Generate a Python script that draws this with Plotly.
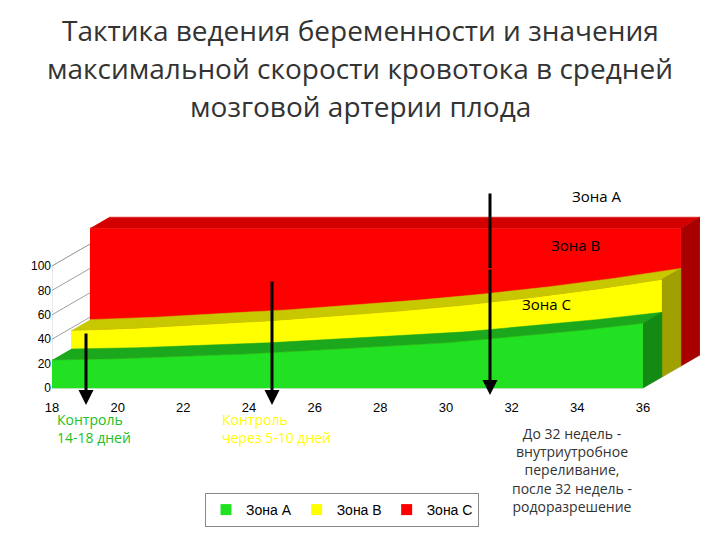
import plotly.graph_objects as go

weeks = [18, 20, 22, 24, 26, 28, 30, 32, 34, 36]
zone_a = [23, 24, 26, 28, 31, 34, 37, 42, 47, 53]
zone_b = [38, 40, 43, 46, 50, 54, 59, 65, 72, 80]
zone_c = [113] * 10
x_ticks = list(range(18, 37, 2))
y_ticks = list(range(0, 101, 20))

OFF = 8  # page body margin
W, H = 720, 540
L, R, T, B = 52 - OFF, 20 + OFF, 150 - OFF, 142 + OFF
XR = [18, 18 + (W - L - R) / 32.83]
YR = [-(398 - 388) / 1.22, (388 - 150) / 1.22]
DX, DY = 19 / 32.83, 11 / 1.22

def px(xp, yp):
    return ((xp - 52) / (W - L - R), (398 - yp) / (H - T - B))

fig = go.Figure()

def poly(xs, ys, color, line=None):
    fig.add_trace(go.Scatter(x=xs, y=ys, fill="toself", fillcolor=color, mode="lines",
                             line=dict(color=line or color, width=0.5), hoverinfo="skip", showlegend=False))

poly([18, 36, 36 + 3*DX, 18 + 3*DX], [0, 0, 3*DY, 3*DY], "#d9d9d9", "#a0a0a0")
poly([18, 18, 18 + 2*DX, 18 + 2*DX], [0, 100, 100 + 2*DY, 2*DY], "#ffffff", "#a0a0a0")
for v in y_ticks:
    fig.add_trace(go.Scatter(x=[18, 18 + 2*DX], y=[v, v + 2*DY], mode="lines",
                             line=dict(color="#a0a0a0", width=1), hoverinfo="skip", showlegend=False))

def series(vals, k, front, top, side):
    ox, oy = k*DX, k*DY
    xs = [x + ox for x in weeks]
    ys = [v + oy for v in vals]
    poly(xs + xs[::-1], ys + [oy]*len(xs), front)
    xb = [x + DX for x in xs]
    yb = [y + DY for y in ys]
    poly(xs + xb[::-1], ys + yb[::-1], top)
    poly([xs[-1], xb[-1], xb[-1], xs[-1]], [oy, oy + DY, yb[-1], ys[-1]], side)

series(zone_c, 2, "#ff0000", "#d40000", "#a80000")
series(zone_b, 1, "#ffff00", "#c8c800", "#a0a000")
series(zone_a, 0, "#22e022", "#1ca81c", "#138a13")

for name, c in [("Зона А", "#22e022"), ("Зона В", "#ffff00"), ("Зона С", "#ff0000")]:
    fig.add_trace(go.Scatter(x=[None], y=[None], mode="markers", name=name,
                             marker=dict(symbol="square", size=11, color=c)))

ann = []
def arrow(xp, y0, y1, head=True):
    x = 18 + (xp - 52) / 32.83
    ann.append(dict(x=x, y=(388 - y1) / 1.22, ax=x, ay=(388 - y0) / 1.22, xref="x", yref="y",
                    axref="x", ayref="y", showarrow=True, arrowhead=2 if head else 0,
                    arrowwidth=3, arrowcolor="black", text=""))
arrow(86, 332, 405)
arrow(272, 280, 405)
arrow(490, 192, 268, head=False)
arrow(490, 268, 395)

def text(xp, yp, s, color="black", size=15, align="center", xanchor="center"):
    x, y = px(xp, yp)
    ann.append(dict(x=x, y=y, xref="paper", yref="paper", text=s, showarrow=False,
                    font=dict(size=size, color=color), align=align, xanchor=xanchor, yanchor="middle"))

text(360, 30, "Тактика ведения беременности и значения", "#333333", 28)
text(360, 68, "максимальной скорости кровотока в средней", "#333333", 28)
text(360, 106, "мозговой артерии плода", "#333333", 28)
text(596, 196, "Зона А", size=15)
text(575, 245, "Зона В", size=15)
text(546, 304, "Зона С", size=15)
text(55, 428, "Контроль<br>14-18 дней", "#22c022", 14, "left", "left")
text(220, 428, "Контроль<br>через 5-10 дней", "#ffff00", 14, "left", "left")
text(572, 470, "До 32 недель -<br>внутриутробное<br>переливание,<br>после 32 недель -<br>родоразрешение",
     "#333333", 14)

lx, ly = px(205, 510)
fig.update_layout(
    width=W, height=H, margin=dict(l=L, r=R, t=T, b=B),
    paper_bgcolor="white", plot_bgcolor="white",
    font=dict(family="Open Sans", color="black"),
    xaxis=dict(range=XR, tickvals=x_ticks, showgrid=False, zeroline=False, showline=False,
               tickfont=dict(size=13, family="Liberation Sans", color="black"), ticks=""),
    yaxis=dict(range=YR, tickvals=y_ticks, showgrid=False, zeroline=False, showline=False,
               tickfont=dict(size=12, family="Liberation Sans", color="black"), ticks=""),
    showlegend=True,
    legend=dict(orientation="h", x=lx, y=ly, xanchor="left", yanchor="middle",
                bordercolor="#888888", borderwidth=1, font=dict(size=14, family="Liberation Sans")),
    annotations=ann,
)
fig.write_html("out.html")
